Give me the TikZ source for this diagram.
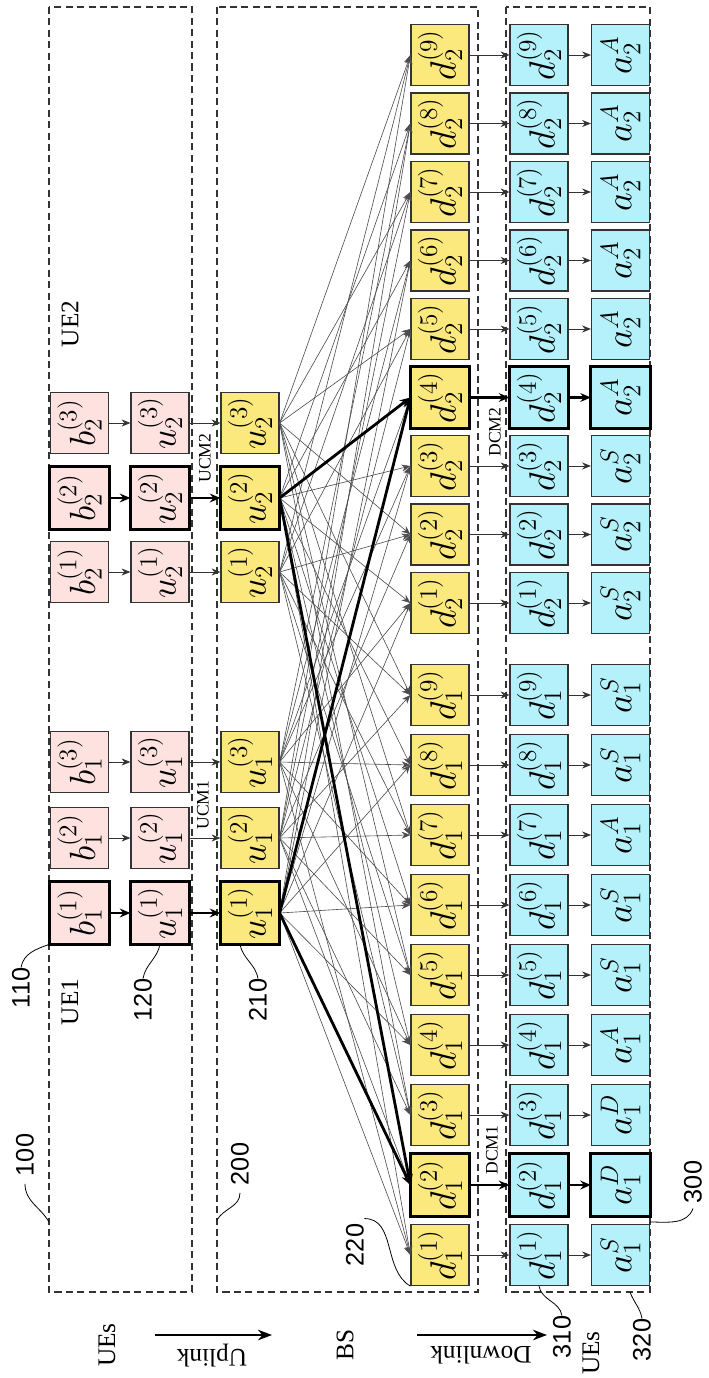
\documentclass[tikz,border=0pt]{standalone}
\usepackage{fontspec}
\usepackage{graphicx}
\setmainfont{Liberation Serif}
\newfontfamily\numfont{Liberation Sans}
\usetikzlibrary{arrows.meta}
\definecolor{pinkfill}{HTML}{FDE2E0}
\definecolor{yelfill}{HTML}{FCE97E}
\definecolor{cyanfill}{HTML}{B4F1FA}
\definecolor{edgegray}{HTML}{333333}
\newcommand{\myrot}[1]{\rotatebox{90}{#1}}
\tikzset{
 cell/.style={draw=edgegray, line width=0.7pt, minimum width=1.16cm, minimum height=1.22cm, inner sep=0pt, font=\huge},
 uecell/.style={cell, fill=pinkfill},
 bscell/.style={cell, fill=yelfill},
 dlcell/.style={cell, fill=cyanfill},
 hl/.style={line width=1.8pt, draw=black},
 dbox/.style={draw=edgegray, dash pattern=on 4pt off 2.5pt, line width=0.9pt},
 link/.style={-{Stealth[length=5pt,width=4pt]}, line width=0.45pt, draw=black!80},
 blink/.style={-{Stealth[length=6pt,width=5pt]}, line width=1.6pt, draw=black},
 lead/.style={line width=0.45pt},
 num/.style={font=\numfont\Large, inner sep=0pt},
 lbl/.style={font=\Large, inner sep=0pt},
 small/.style={font=\normalsize, inner sep=0pt},
}
\begin{document}
\begin{tikzpicture}[x=0.02cm,y=-0.02cm]
\useasboundingbox (0,0) rectangle (708,1378);
% dashed group boxes
\draw[dbox] (49,7) rectangle (192,1292);
\draw[dbox] (217,7) rectangle (478,1292);
\draw[dbox] (506,7) rectangle (650,1292);
\coordinate (p100) at (49,1222);
\coordinate (p200) at (217,1220);
\coordinate (p300) at (650,1222);
\coordinate (p320) at (630,1292);
% UE uplink cells
\foreach \k/\yy in {1/913,2/838,3/762}{
  \node[uecell] (b1\k) at (79.5,\yy) {\myrot{$b_1^{(\k)}$}};
  \node[uecell] (u1\k) at (160,\yy) {\myrot{$u_1^{(\k)}$}};
  \node[bscell] (U1\k) at (250,\yy) {\myrot{$u_1^{(\k)}$}};
}
\foreach \k/\yy in {1/572,2/498,3/423}{
  \node[uecell] (b2\k) at (79.5,\yy) {\myrot{$b_2^{(\k)}$}};
  \node[uecell] (u2\k) at (160,\yy) {\myrot{$u_2^{(\k)}$}};
  \node[bscell] (U2\k) at (250,\yy) {\myrot{$u_2^{(\k)}$}};
}
% BS downlink cells and UE downlink cells
\foreach \k/\s in {1/S,2/D,3/D,4/A,5/S,6/S,7/A,8/S,9/S}{
  \pgfmathsetmacro\yy{1255-(\k-1)*70}
  \node[bscell] (d1\k) at (440,\yy) {\myrot{$d_1^{(\k)}$}};
  \node[dlcell] (e1\k) at (539,\yy) {\myrot{$d_1^{(\k)}$}};
  \node[dlcell] (a1\k) at (620.5,\yy) {\myrot{$a_1^{\s}$}};
}
\foreach \k/\s in {1/S,2/S,3/S,4/A,5/A,6/A,7/A,8/A,9/A}{
  \pgfmathsetmacro\yy{603-(\k-1)*68.5}
  \node[bscell] (d2\k) at (440,\yy) {\myrot{$d_2^{(\k)}$}};
  \node[dlcell] (e2\k) at (539,\yy) {\myrot{$d_2^{(\k)}$}};
  \node[dlcell] (a2\k) at (620.5,\yy) {\myrot{$a_2^{\s}$}};
}
% highlighted borders
\foreach \n in {b11,u11,U11,b22,u22,U22,d12,e12,a12,d24,e24,a24}{
  \draw[hl] (\n.south west) rectangle (\n.north east);
}
% horizontal links
\foreach \k in {2,3}{
  \draw[link] (b1\k.east) -- (u1\k.west);
  \draw[link] (u1\k.east) -- (U1\k.west);
}
\foreach \k in {1,3}{
  \draw[link] (b2\k.east) -- (u2\k.west);
  \draw[link] (u2\k.east) -- (U2\k.west);
}
\draw[blink] (b11.east) -- (u11.west);
\draw[blink] (u11.east) -- (U11.west);
\draw[blink] (b22.east) -- (u22.west);
\draw[blink] (u22.east) -- (U22.west);
\foreach \k in {1,3,4,5,6,7,8,9}{
  \draw[link] (d1\k.east) -- (e1\k.west);
  \draw[link] (e1\k.east) -- (a1\k.west);
}
\foreach \k in {1,2,3,5,6,7,8,9}{
  \draw[link] (d2\k.east) -- (e2\k.west);
  \draw[link] (e2\k.east) -- (a2\k.west);
}
\draw[blink] (d12.east) -- (e12.west);
\draw[blink] (e12.east) -- (a12.west);
\draw[blink] (d24.east) -- (e24.west);
\draw[blink] (e24.east) -- (a24.west);
% fan of links from BS uplink to BS downlink
\foreach \s/\t in {U11/d11,U13/d11,U22/d11, U12/d12,
  U12/d13,U21/d13,U23/d13, U13/d14,U11/d14,U22/d14,
  U12/d15,U23/d15,U21/d15, U11/d16,U13/d16,U22/d16,
  U12/d17,U21/d17,U23/d17, U13/d18,U11/d18,U22/d18,
  U12/d19,U21/d19,U23/d19, U11/d21,U13/d21,U22/d21,
  U12/d22,U21/d22,U23/d22, U13/d23,U11/d23,U22/d23,
  U13/d24, U12/d25,U21/d25,U23/d25, U13/d26,U11/d26,U22/d26,
  U12/d27,U21/d27,U23/d27, U11/d28,U13/d28,U22/d28,
  U12/d29,U21/d29,U23/d29}{
  \draw[link, line width=0.35pt, draw=black!70] (\s.east) -- (\t.west);
}
\draw[blink] (U11.east) -- (d12.west);
\draw[blink] (U11.east) -- (d24.west);
\draw[blink] (U22.east) -- (d12.west);
\draw[blink] (U22.east) -- (d24.west);
% text labels
\node[lbl] (tue1) at (70,1002) {\myrot{UE1}};
\node[lbl] (tue2) at (70,324) {\myrot{UE2}};
\node[small] (ucm1) at (203,805) {\myrot{UCM1}};
\node[small] (ucm2) at (205,458) {\myrot{UCM2}};
\node[small] (dcm1) at (492,1150) {\myrot{DCM1}};
\node[small] (dcm2) at (495,432) {\myrot{DCM2}};
% bottom legend
\node[lbl] (tues1) at (107,1345) {\myrot{UEs}};
\coordinate (ua) at (155,1335);
\coordinate (ub) at (272,1335);
\draw[-{Stealth[length=8pt,width=6pt]}, line width=1.4pt] (ua) -- (ub);
\node[lbl] (tup) at (212,1356) {\rotatebox{180}{Uplink}};
\node[lbl] (tbs) at (345,1345) {\myrot{BS}};
\coordinate (da) at (417,1335);
\coordinate (db) at (547,1335);
\draw[-{Stealth[length=8pt,width=6pt]}, line width=1.4pt] (da) -- (db);
\node[lbl] (tdown) at (481,1355) {\rotatebox{180}{Downlink}};
\node[lbl] (tues2) at (591,1353) {\myrot{UEs}};
% reference numerals
\node[num] (l100) at (25,1155) {\myrot{100}};
\node[num] (l110) at (21,988) {\myrot{110}};
\node[num] (l120) at (143,1000) {\myrot{120}};
\node[num] (l210) at (258,1000) {\myrot{210}};
\node[num] (l200) at (240,1164) {\myrot{200}};
\node[num] (l220) at (355,1245) {\myrot{220}};
\node[num] (l300) at (693,1182) {\myrot{300}};
\node[num] (l310) at (562,1337) {\myrot{310}};
\node[num] (l320) at (642,1340) {\myrot{320}};
\draw[lead] ([yshift=-0.15cm]l100.south) to[out=270,in=120] (p100);
\draw[lead] (l110.north) to[out=80,in=200] (b11.south west);
\draw[lead] (l120.north) to[out=80,in=260] (u11.south);
\draw[lead] (l210.north) to[out=100,in=280] ([xshift=-0.2cm]U11.south);
\draw[lead] ([yshift=-0.15cm]l200.south) to[out=270,in=60] (p200);
\draw[lead] ([yshift=0.1cm]l220.north east) to[out=0,in=150] (d11.south west);
\draw[lead] ([yshift=-0.1cm]l300.south) to[out=250,in=0] (p300);
\draw[lead] (l310.north) to[out=100,in=280] (e11.south);
\draw[lead] (l320.north) to[out=100,in=290] (p320);
\end{tikzpicture}
\end{document}
